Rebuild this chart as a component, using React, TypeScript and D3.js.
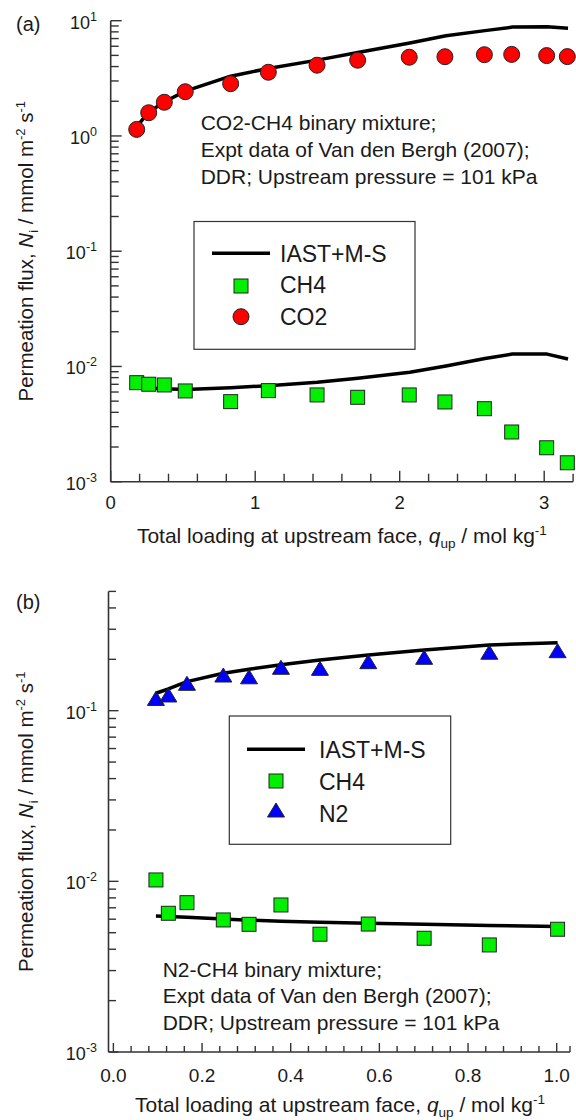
import React from "react";
import * as d3 from "d3";

// ---------- Panel (a): CO2-CH4 ----------
const qA = [0.18, 0.263, 0.371, 0.516, 0.83, 1.091, 1.428, 1.709, 2.066, 2.313, 2.586, 2.775, 3.017, 3.16];
const fluxA_CO2 = [1.14, 1.59, 1.96, 2.42, 2.84, 3.57, 4.11, 4.54, 4.82, 4.87, 5.07, 5.1, 4.98, 4.88];
const fluxA_CH4 = [0.00723, 0.00701, 0.00691, 0.00613, 0.00495, 0.00617, 0.00566, 0.0054, 0.00566, 0.00492, 0.0043, 0.0027, 0.00197, 0.00146];
const qA_model = [0.18, 0.26, 0.37, 0.516, 0.83, 1.09, 1.43, 1.71, 2.07, 2.32, 2.59, 2.78, 3.02, 3.165];
const modelA_CO2 = [1.2, 1.6, 1.97, 2.45, 3.3, 3.85, 4.55, 5.3, 6.4, 7.4, 8.2, 8.8, 8.85, 8.6];
const modelA_CH4 = [0.0066, 0.0065, 0.0064, 0.0063, 0.00655, 0.0068, 0.0073, 0.0079, 0.0089, 0.0101, 0.0117, 0.0128, 0.0128, 0.0116];
const xTicksA = [0, 1, 2, 3];
const yExpA = [1, 0, -1, -2, -3];

// ---------- Panel (b): N2-CH4 ----------
const qB = [0.096, 0.124, 0.166, 0.248, 0.306, 0.378, 0.466, 0.575, 0.701, 0.848, 1.002];
const fluxB_N2 = [0.118, 0.1236, 0.1447, 0.1618, 0.158, 0.1796, 0.177, 0.1937, 0.2055, 0.22, 0.2247];
const fluxB_CH4 = [0.01019, 0.0065, 0.0075, 0.00594, 0.0056, 0.00727, 0.0049, 0.00562, 0.00464, 0.00424, 0.00524];
const modelB_N2 = [0.1265, 0.134, 0.148, 0.1656, 0.1748, 0.186, 0.198, 0.212, 0.2268, 0.2427, 0.2503];
const modelB_CH4 = [0.00627, 0.00622, 0.00615, 0.00601, 0.00592, 0.00583, 0.00575, 0.00568, 0.0056, 0.00552, 0.00544];
const xTicksB = [0, 0.2, 0.4, 0.6, 0.8, 1.0];
const yExpB = [-1, -2, -3];

const legendLabelsA = ["IAST+M-S", "CH4", "CO2"];
const legendLabelsB = ["IAST+M-S", "CH4", "N2"];
const noteA = ["CO2-CH4 binary mixture;", "Expt data of Van den Bergh (2007);", "DDR; Upstream pressure = 101 kPa"];
const noteB = ["N2-CH4 binary mixture;", "Expt data of Van den Bergh (2007);", "DDR; Upstream pressure = 101 kPa"];

const FONT = "'Liberation Sans', Arial, Helvetica, sans-serif";
const TXT = "#1a1a1a";
const AX = "#333";
const GREEN = "#00f000";
const RED = "#ff0000";
const BLUE = "#0000ff";
const MK = "#222";

function logMinor(lo: number, hi: number) {
  const out: number[] = [];
  for (let e = Math.floor(Math.log10(lo)); e <= Math.ceil(Math.log10(hi)); e++) {
    for (let m = 1; m <= 9; m++) {
      const v = m * Math.pow(10, e);
      if (v >= lo * 0.9999 && v <= hi * 1.0001) out.push(v);
    }
  }
  return out;
}

function Square({ x, y, s = 14 }: { x: number; y: number; s?: number }) {
  return <rect x={x - s / 2} y={y - s / 2} width={s} height={s} fill={GREEN} stroke={MK} strokeWidth={1} />;
}
function Circle({ x, y, r = 8 }: { x: number; y: number; r?: number }) {
  return <circle cx={x} cy={y} r={r} fill={RED} stroke={MK} strokeWidth={1} />;
}
function Tri({ x, y }: { x: number; y: number }) {
  const w = 17, h = 14;
  return <path d={`M${x},${y - h / 2}L${x + w / 2},${y + h / 2}L${x - w / 2},${y + h / 2}Z`} fill={BLUE} stroke={MK} strokeWidth={1} />;
}

function YLabel({ cx, cy }: { cx: number; cy: number }) {
  return (
    <text transform={`translate(${cx},${cy}) rotate(-90)`} textAnchor="middle" fontSize={20.5} fill={TXT}>
      Permeation flux, <tspan fontStyle="italic">N</tspan>
      <tspan dy={5} fontSize={13}>i</tspan>
      <tspan dy={-5}> / mmol m</tspan>
      <tspan dy={-8} fontSize={13}>-2</tspan>
      <tspan dy={8}> s</tspan>
      <tspan dy={-8} fontSize={13}>-1</tspan>
    </text>
  );
}

function XLabel({ cx, y }: { cx: number; y: number }) {
  return (
    <text x={cx} y={y} textAnchor="middle" fontSize={21} fill={TXT}>
      Total loading at upstream face, <tspan fontStyle="italic">q</tspan>
      <tspan dy={5} fontSize={13.5}>up</tspan>
      <tspan dy={-5}> / mol kg</tspan>
      <tspan dy={-8} fontSize={13.5}>-1</tspan>
    </text>
  );
}

function YTickLabel({ x, y, e }: { x: number; y: number; e: number }) {
  return (
    <text x={x} y={y} textAnchor="end" fontSize={18} fill={TXT}>
      10<tspan dy={-8} fontSize={12.5}>{e}</tspan>
    </text>
  );
}

export default function App() {
  const xA = d3.scaleLinear().domain([0, 3.2]).range([110.7, 573.1]);
  const yA = d3.scaleLog().domain([1e-3, 10]).range([481.7, 20.7]);
  const xB = d3.scaleLinear().domain([-0.011, 1.03]).range([108.5, 570]);
  const yB = d3.scaleLog().domain([1e-3, 0.5]).range([1052, 591.4]);

  const lineA = d3.line<number>().x((_, i) => xA(qA_model[i])).y((d) => yA(d));
  const lineB = d3.line<number>().x((_, i) => xB(qB[i])).y((d) => yB(d));

  const minorXA = d3.range(0, 3.2001, 0.2);
  const minorXB = d3.range(0, 1.0201, 0.04);
  const yMinorA = logMinor(1e-3, 10);
  const yMinorB = logMinor(1e-3, 0.5);

  const isMajorLog = (v: number) => Math.abs(Math.log10(v) - Math.round(Math.log10(v))) < 1e-6;

  const [x0A, x1A] = xA.range();
  const [y0A, y1A] = yA.range();
  const [x0B, x1B] = xB.range();
  const [y0B, y1B] = yB.range();

  return (
    <svg width={576} height={1120} style={{ position: "absolute", left: 0, top: 0, background: "#fff" }} fontFamily={FONT}>
      <rect x={0} y={0} width={576} height={1120} fill="#fff" />

      {/* ================= Panel (a) ================= */}
      <text x={16} y={31} fontSize={20} fill={TXT}>(a)</text>
      <line x1={x0A} x2={x0A} y1={y0A} y2={y1A} stroke={AX} strokeWidth={1.6} />
      <line x1={x0A} x2={x1A} y1={y0A} y2={y0A} stroke={AX} strokeWidth={1.6} />
      {yMinorA.map((v, i) => (
        <line key={"yta" + i} x1={x0A} x2={x0A + (isMajorLog(v) ? 11 : 8)} y1={yA(v)} y2={yA(v)} stroke={AX} strokeWidth={1.4} />
      ))}
      {minorXA.map((v, i) => {
        const major = Math.abs(v - Math.round(v)) < 1e-6;
        return <line key={"xta" + i} x1={xA(v)} x2={xA(v)} y1={y0A} y2={y0A - (major ? 11 : 8)} stroke={AX} strokeWidth={1.4} />;
      })}
      {yExpA.map((e) => (
        <YTickLabel key={"yla" + e} x={97} y={yA(Math.pow(10, e)) + 8} e={e} />
      ))}
      {xTicksA.map((t) => (
        <text key={"xla" + t} x={xA(t)} y={508.5} textAnchor="middle" fontSize={18.5} fill={TXT}>{String(t)}</text>
      ))}
      <YLabel cx={33} cy={(y0A + y1A) / 2} />
      <XLabel cx={(x0A + x1A) / 2} y={542.7} />

      <path d={lineA(modelA_CO2) || ""} fill="none" stroke="#000" strokeWidth={3.5} strokeLinejoin="round" />
      <path d={lineA(modelA_CH4) || ""} fill="none" stroke="#000" strokeWidth={3.5} strokeLinejoin="round" />
      {qA.map((q, i) => <Square key={"sa" + i} x={xA(q)} y={yA(fluxA_CH4[i])} />)}
      {qA.map((q, i) => <Circle key={"ca" + i} x={xA(q)} y={yA(fluxA_CO2[i])} />)}

      {noteA.map((s, i) => (
        <text key={"na" + i} x={200.7} y={130 + i * 27} fontSize={21} fill={TXT}>{s}</text>
      ))}

      <rect x={194} y={221.5} width={221} height={127.8} fill="#fff" stroke={AX} strokeWidth={1.2} />
      <line x1={212} x2={270} y1={253.3} y2={253.3} stroke="#000" strokeWidth={3.5} />
      <Square x={241} y={286} />
      <Circle x={241} y={316.7} />
      {legendLabelsA.map((s, i) => (
        <text key={"lga" + i} x={280} y={261.7 + i * 31.7} fontSize={23} fill={TXT}>{s}</text>
      ))}

      {/* ================= Panel (b) ================= */}
      <text x={16} y={609} fontSize={20} fill={TXT}>(b)</text>
      <line x1={x0B} x2={x0B} y1={y0B} y2={y1B} stroke={AX} strokeWidth={1.6} />
      <line x1={x0B} x2={x1B} y1={y0B} y2={y0B} stroke={AX} strokeWidth={1.6} />
      {yMinorB.map((v, i) => (
        <line key={"ytb" + i} x1={x0B} x2={x0B + (isMajorLog(v) ? 10 : 7.5)} y1={yB(v)} y2={yB(v)} stroke={AX} strokeWidth={1.4} />
      ))}
      {minorXB.map((v, i) => {
        const major = Math.abs(v * 5 - Math.round(v * 5)) < 1e-6;
        return <line key={"xtb" + i} x1={xB(v)} x2={xB(v)} y1={y0B} y2={y0B - (major ? 9 : 6)} stroke={AX} strokeWidth={1.4} />;
      })}
      <line x1={x1B} x2={x1B} y1={y0B} y2={y0B - 6} stroke={AX} strokeWidth={1.4} />
      {yExpB.map((e) => (
        <YTickLabel key={"ylb" + e} x={97} y={yB(Math.pow(10, e)) + 8} e={e} />
      ))}
      {xTicksB.map((t) => (
        <text key={"xlb" + t} x={xB(t)} y={1081.7} textAnchor="middle" fontSize={19} fill={TXT}>{t.toFixed(1)}</text>
      ))}
      <YLabel cx={33} cy={(y0B + y1B) / 2} />
      <XLabel cx={340} y={1112} />

      <path d={lineB(modelB_N2) || ""} fill="none" stroke="#000" strokeWidth={3.5} strokeLinejoin="round" />
      <path d={lineB(modelB_CH4) || ""} fill="none" stroke="#000" strokeWidth={3.5} strokeLinejoin="round" />
      {qB.map((q, i) => <Square key={"sb" + i} x={xB(q)} y={yB(fluxB_CH4[i])} />)}
      {qB.map((q, i) => <Tri key={"tb" + i} x={xB(q)} y={yB(fluxB_N2[i])} />)}

      {noteB.map((s, i) => (
        <text key={"nb" + i} x={162.7} y={976.7 + i * 26.7} fontSize={21} fill={TXT}>{s}</text>
      ))}

      <rect x={229.3} y={716} width={221.4} height={128.3} fill="#fff" stroke={AX} strokeWidth={1.2} />
      <line x1={247} x2={305} y1={749.3} y2={749.3} stroke="#000" strokeWidth={3.5} />
      <Square x={276} y={781} />
      <Tri x={276} y={810} />
      {legendLabelsB.map((s, i) => (
        <text key={"lgb" + i} x={319} y={758 + i * 32} fontSize={23} fill={TXT}>{s}</text>
      ))}
    </svg>
  );
}
